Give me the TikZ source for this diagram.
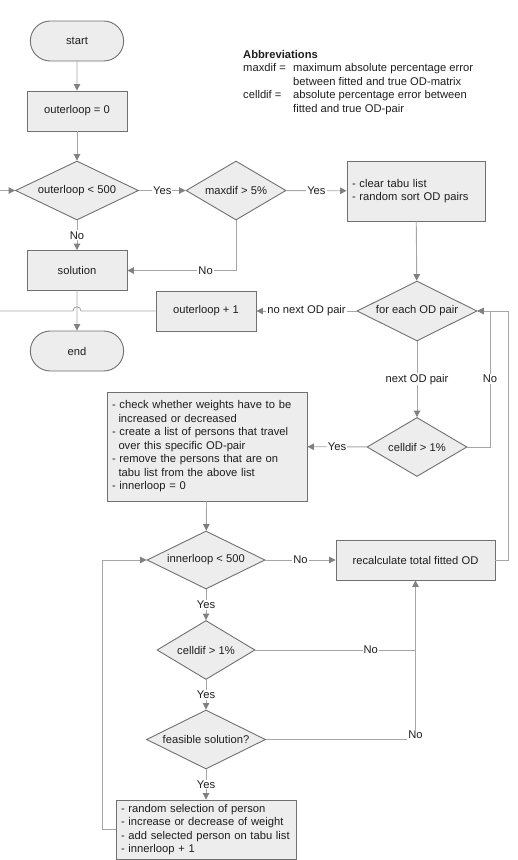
\documentclass[tikz,border=0pt]{standalone}
\usepackage{fontspec}
\setmainfont{Liberation Sans}
\usepackage{tikz}
\usetikzlibrary{shapes.geometric}
\usetikzlibrary{shapes.misc}
\usetikzlibrary{arrows.meta}
\definecolor{linegray}{HTML}{A6A6A6}
\definecolor{tipgray}{HTML}{808080}
\definecolor{edgegray}{HTML}{707070}
\definecolor{boxfill}{HTML}{EDEDED}
\definecolor{inkgray}{HTML}{1E1E1E}
\begin{document}
\begin{tikzpicture}[x=1pt,y=-1pt,
    font=\fontsize{11.2}{13.5}\selectfont,
    every node/.style={text=inkgray},
    box/.style={rectangle, draw=edgegray, fill=boxfill, line width=0.9pt,
        minimum width=100pt, minimum height=40pt},
    listbox/.style={box, inner xsep=5pt, align=left},
    term/.style={box, rounded rectangle},
    decision/.style={diamond, draw=edgegray, fill=boxfill, line width=0.9pt,
        shape aspect=2, inner sep=0pt},
    flow/.style={draw=linegray, line width=0.9pt,
        -{Triangle[length=6.5pt,width=6.5pt,color=tipgray]}},
    lbl/.style={fill=white, inner sep=1pt}]
    \useasboundingbox (0,0) rectangle (518,860);

    \node [term] (start) at (77,41) {start};
    \node [box] (init) at (77,111) {outerloop = 0};
    \node [decision, minimum width=123pt, minimum height=59pt] (outer) at (77,190.5) {outerloop < 500};
    \node [decision, minimum width=100pt, minimum height=59pt] (maxdif) at (236,190.5) {maxdif > 5\%};
    \node [listbox, minimum width=138pt, minimum height=60pt, text width=128pt] (clear) at (416,191)
        {- clear tabu list\\- random sort OD pairs};
    \node [box] (solution) at (77,270.5) {solution};
    \node [box] (oplus) at (206,311) {outerloop + 1};
    \node [decision, minimum width=120pt, minimum height=60pt] (foreach) at (417,311) {for each OD pair};
    \node [term] (finish) at (77,351) {end};
    \node [decision, minimum width=100pt, minimum height=59pt] (cellA) at (417,447) {celldif > 1\%};
    \node [listbox, minimum width=200pt, minimum height=109pt, text width=190pt] (prep) at (207,446.5)
        {- check whether weights have to be\\\hspace*{6.5pt}increased or decreased\\
         - create a list of persons that travel\\\hspace*{6.5pt}over this specific OD-pair\\
         - remove the persons that are on\\\hspace*{6.5pt}tabu list from the above list\\
         - innerloop = 0};
    \node [decision, minimum width=118pt, minimum height=58pt] (inner) at (206,560) {innerloop < 500};
    \node [box, minimum width=159pt] (recalc) at (415.5,560) {recalculate total fitted OD};
    \node [decision, minimum width=98pt, minimum height=59pt] (cellB) at (206,650) {celldif > 1\%};
    \node [decision, minimum width=119pt, minimum height=59pt] (feas) at (206,739.5) {feasible solution?};
    \node [listbox, minimum width=180pt, minimum height=59pt, text width=170pt] (move) at (206,829.5)
        {- random selection of person\\- increase or decrease of weight\\
         - add selected person on tabu list\\- innerloop + 1};

    \node [anchor=base west, inner sep=0pt] (abbrev) at (243,58)
        {\begin{tabular}[t]{@{}p{50pt}@{}l@{}}
         \multicolumn{2}{@{}l@{}}{\bfseries Abbreviations}\\
         maxdif = & maximum absolute percentage error\\
                  & between fitted and true OD-matrix\\
         celldif = & absolute percentage error between\\
                   & fitted and true OD-pair
         \end{tabular}};

    \coordinate (backO) at (-6,311);
    \coordinate (hop) at (77,311);
    \coordinate (rightA) at (490,447);
    \coordinate (rightB) at (508,560);
    \coordinate (backI) at (102,829.5);

    \draw [flow] (start) -- (init);
    \draw [flow] (init) -- (outer);
    \draw [flow] (outer) -- node[lbl]{Yes} (maxdif);
    \draw [flow] (maxdif) -- node[lbl]{Yes} (clear);
    \draw [flow] (outer) -- node[lbl]{No} (solution);
    \draw [flow] (maxdif.south) |- node[lbl, pos=0.64]{No} (solution.east);
    \draw [flow] (clear) -- (foreach);
    \draw [flow] (foreach) -- node[lbl]{no next OD pair} (oplus);
    \draw [flow] (oplus.west) -- ([xshift=4pt]hop) .. controls +(0,-5.5) and +(0,-5.5) .. ([xshift=-4pt]hop)
        -- (backO) |- (outer.west);
    \draw [flow] (solution) -- (finish);
    \draw [flow] (foreach) -- node[lbl]{next OD pair} (cellA);
    \draw [flow] (cellA.east) -- (rightA) |- node[lbl, pos=0.25]{No} (foreach.east);
    \draw [flow] (cellA) -- node[lbl]{Yes} (prep);
    \draw [flow] (prep) -- (inner);
    \draw [flow] (inner) -- node[lbl]{No} (recalc);
    \draw [flow] (recalc.east) -- (rightB) |- (foreach.east);
    \draw [flow] (inner) -- node[lbl]{Yes} (cellB);
    \draw [draw=linegray, line width=0.9pt] (cellB.east) -- node[lbl, pos=0.72]{No} (recalc.south |- cellB.east);
    \draw [flow] (feas.east) -- (recalc.south |- feas.east) -- (recalc.south);
    \node [lbl] (feasno) at (415.5,735) {No};
    \draw [flow] (cellB) -- node[lbl]{Yes} (feas);
    \draw [flow] (feas) -- node[lbl]{Yes} (move);
    \draw [flow] (move.west) -- (backI) |- (inner.west);
\end{tikzpicture}
\end{document}
